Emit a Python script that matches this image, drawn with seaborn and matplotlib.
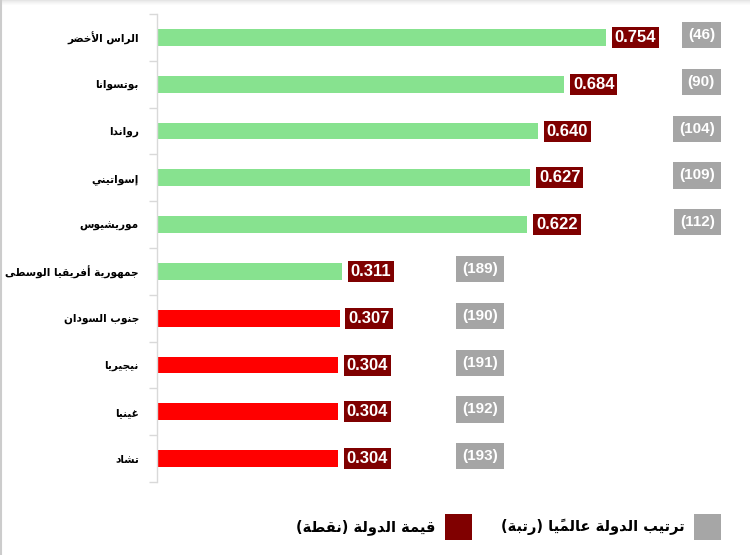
import numpy as np
import pandas as pd
import matplotlib
matplotlib.use("Agg")
import matplotlib.pyplot as plt
import seaborn as sns
from matplotlib.patches import Patch, Rectangle
from matplotlib.lines import Line2D

# ---------------- data ----------------
countries = ["الراس الأخضر", "بوتسوانا", "رواندا", "إسواتيني", "موريشيوس",
             "جمهورية أفريقيا الوسطى", "جنوب السودان", "نيجيريا", "غينيا", "تشاد"]
values = [0.754, 0.684, 0.640, 0.627, 0.622, 0.311, 0.307, 0.304, 0.304, 0.304]
ranks = [46, 90, 104, 109, 112, 189, 190, 191, 192, 193]
groups = ["high"] * 6 + ["low"] * 4
legend_value = "قيمة الدولة (نقطة)"
legend_rank = "ترتيب الدولة عالميًا (رتبة)"

# layout (x position, in data units, of the right edge of the rank labels)
rank_label_x = [0.937] * 5 + [0.573] * 5

# ---------------- minimal Arabic shaping (presentation forms + RTL) ----------------
F = {  # isolated, final, initial, medial
    "ا": ("\uFE8D", "\uFE8E", None, None),
    "أ": ("\uFE83", "\uFE84", None, None),
    "إ": ("\uFE87", "\uFE88", None, None),
    "ب": ("\uFE8F", "\uFE90", "\uFE91", "\uFE92"),
    "ة": ("\uFE93", "\uFE94", None, None),
    "ت": ("\uFE95", "\uFE96", "\uFE97", "\uFE98"),
    "ج": ("\uFE9D", "\uFE9E", "\uFE9F", "\uFEA0"),
    "خ": ("\uFEA5", "\uFEA6", "\uFEA7", "\uFEA8"),
    "د": ("\uFEA9", "\uFEAA", None, None),
    "ر": ("\uFEAD", "\uFEAE", None, None),
    "س": ("\uFEB1", "\uFEB2", "\uFEB3", "\uFEB4"),
    "ش": ("\uFEB5", "\uFEB6", "\uFEB7", "\uFEB8"),
    "ض": ("\uFEBD", "\uFEBE", "\uFEBF", "\uFEC0"),
    "ط": ("\uFEC1", "\uFEC2", "\uFEC3", "\uFEC4"),
    "ع": ("\uFEC9", "\uFECA", "\uFECB", "\uFECC"),
    "غ": ("\uFECD", "\uFECE", "\uFECF", "\uFED0"),
    "ف": ("\uFED1", "\uFED2", "\uFED3", "\uFED4"),
    "ق": ("\uFED5", "\uFED6", "\uFED7", "\uFED8"),
    "ل": ("\uFEDD", "\uFEDE", "\uFEDF", "\uFEE0"),
    "م": ("\uFEE1", "\uFEE2", "\uFEE3", "\uFEE4"),
    "ن": ("\uFEE5", "\uFEE6", "\uFEE7", "\uFEE8"),
    "ه": ("\uFEE9", "\uFEEA", "\uFEEB", "\uFEEC"),
    "و": ("\uFEED", "\uFEEE", None, None),
    "ى": ("\uFEEF", "\uFEF0", None, None),
    "ي": ("\uFEF1", "\uFEF2", "\uFEF3", "\uFEF4"),
}
LAMALEF = {"ا": ("\uFEFB", "\uFEFC"), "أ": ("\uFEF7", "\uFEF8"), "إ": ("\uFEF9", "\uFEFA")}


def _mark(c):
    return "\u064B" <= c <= "\u0652"


def shape(text):
    ch = list(text)
    n = len(ch)

    def prev_l(i):
        j = i - 1
        while j >= 0 and _mark(ch[j]):
            j -= 1
        return ch[j] if j >= 0 else None

    def next_l(i):
        j = i + 1
        while j < n and _mark(ch[j]):
            j += 1
        return ch[j] if j < n else None

    out = []
    i = 0
    while i < n:
        c = ch[i]
        if c not in F:
            out.append(c)
            i += 1
            continue
        p = prev_l(i)
        jp = p in F and F[p][2] is not None
        if c == "ل" and i + 1 < n and ch[i + 1] in LAMALEF:
            lig = LAMALEF[ch[i + 1]]
            out.append(lig[1] if jp else lig[0])
            i += 2
            continue
        nx = next_l(i)
        jn = F[c][2] is not None and nx in F
        iso, fin, ini, med = F[c]
        if jp and jn:
            out.append(med)
        elif jp:
            out.append(fin)
        elif jn:
            out.append(ini)
        else:
            out.append(iso)
        i += 1
    clusters = []
    for c in out:
        if _mark(c) and clusters:
            clusters[-1] += c
        else:
            clusters.append(c)
    clusters.reverse()
    swap = {"(": ")", ")": "("}
    return "".join(swap.get(c, c) for c in clusters)


# ---------------- figure ----------------
W, H = 750, 555
fig = plt.figure(figsize=(W / 100, H / 100), dpi=100)
fig.patch.set_facecolor("white")

px_per_unit = 595.5
ax_left, ax_right, ax_top, ax_bot = 157, 740, 14, 482
ax = fig.add_axes([ax_left / W, 1 - ax_bot / H, (ax_right - ax_left) / W, (ax_bot - ax_top) / H])

df = pd.DataFrame({"country": [shape(c) for c in countries], "value": values, "group": groups})
sns.barplot(data=df, x="value", y="country", hue="group",
            palette={"high": "#87E28F", "low": "#FF0000"}, dodge=False,
            width=0.36, saturation=1, legend=False, ax=ax)

ax.set_xlim(0, (ax_right - ax_left) / px_per_unit)
ax.set_ylim(9.5, -0.5)
ax.set_xlabel("")
ax.set_ylabel("")
ax.set_xticks([])
for s in ["top", "right", "bottom"]:
    ax.spines[s].set_visible(False)
ax.spines["left"].set_color("#d9d9d9")
ax.spines["left"].set_linewidth(1.0)

ax.set_yticks(np.arange(-0.5, 10, 1))
ax.set_yticklabels([])
ax.tick_params(axis="y", which="major", length=6, color="#d9d9d9", width=1)
ax.set_yticks(np.arange(10), minor=True)
ax.set_yticklabels(df["country"], minor=True, fontsize=7.6, fontweight="bold",
                   family="DejaVu Sans", color="black")
ax.tick_params(axis="y", which="minor", length=0, pad=13)

for i, v in enumerate(values):
    ax.annotate(f"{v:.3f}", xy=(v, i), xytext=(6.2, 0), textcoords="offset points",
                ha="left", va="center", color="white", fontweight="bold", fontsize=12,
                family="Liberation Sans",
                bbox=dict(boxstyle="square,pad=0.18", fc="#7f0000", ec="none"))

for i, r in enumerate(ranks):
    ax.text(rank_label_x[i], i - 0.05, f"({r})", ha="right", va="center", color="white",
            fontweight="bold", fontsize=11, family="Liberation Sans",
            bbox=dict(boxstyle="square,pad=0.4", fc="#a5a5a5", ec="none"))

handles = [Patch(facecolor="#800000", edgecolor="none", label=shape(legend_value)),
           Patch(facecolor="#a6a6a6", edgecolor="none", label=shape(legend_rank))]
fig.legend(handles=handles, loc="center right", bbox_to_anchor=(721 / W, 1 - 527 / H),
           ncol=2, markerfirst=False, frameon=False, handlelength=1.85, handleheight=2.45,
           handletextpad=0.65, columnspacing=2.0, borderaxespad=0, borderpad=0,
           prop={"weight": "bold", "size": 10.5, "family": "DejaVu Sans"})

# frame decorations
fig.add_artist(Line2D([1 / W, 1 / W], [0, 1], transform=fig.transFigure, color="#cccccc", lw=1.5))
for k, a in enumerate([0.10, 0.07, 0.05, 0.03, 0.015]):
    fig.add_artist(Rectangle((0, 1 - (k + 1) / H), 1, 1 / H, transform=fig.transFigure,
                             facecolor="black", alpha=a, edgecolor="none"))

fig.savefig("out.png", dpi=100)
